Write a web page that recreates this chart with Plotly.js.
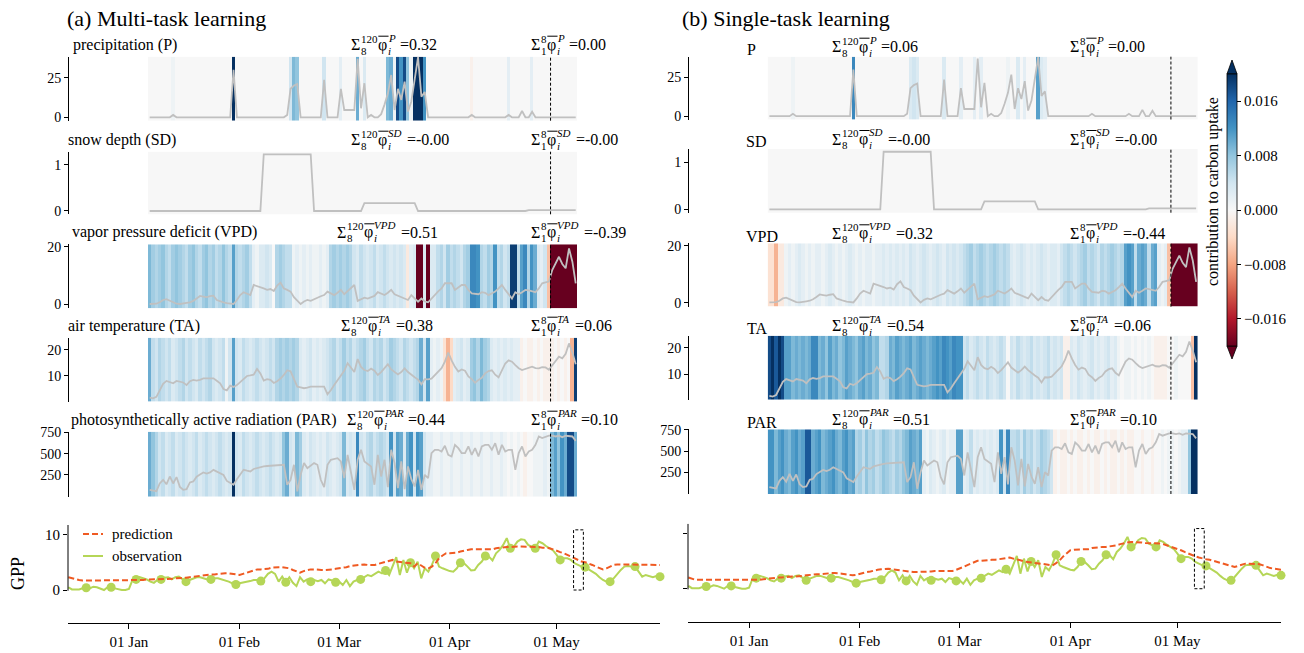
<!DOCTYPE html>
<html><head><meta charset="utf-8">
<script src="https://cdn.plot.ly/plotly-3.0.1.min.js"></script>
<style>html,body{margin:0;padding:0;background:#fff;}#chart{width:1304px;height:653px;}</style>
</head><body><div id="chart"></div>
<script>
// ---------------- DATA ----------------
const varNames = ['P','SD','VPD','TA','PAR'];
const leftLabels = ['precipitation (P)','snow depth (SD)','vapor pressure deficit (VPD)','air temperature (TA)','photosynthetically active radiation (PAR)'];
const rightLabels = ['P','SD','VPD','TA','PAR'];
const sum120Left = ['0.32','-0.00','0.51','0.38','0.44'];
const sum8Left   = ['0.00','-0.00','-0.39','0.06','0.10'];
const sum120Right = ['0.06','-0.00','0.32','0.54','0.51'];
const sum8Right   = ['0.00','-0.00','-0.44','0.06','0.10'];
const yTickVals = {P:[0,25], SD:[0,1], VPD:[0,20], TA:[10,20], PAR:[250,500,750]};

// input variables over the 128 steps (same for both panels)
const lineP = [0,0,0,0,0,0,0,1.5,0,0, 0,0,0,0,0,0,0,0,0,0, 0,0,0,0,0,30,0,0,0,0, 0,0,0,0,0,0,0,0,0,0,
 0,1.5,18,20,21,0,0,0,0,0, 0,0,23.6,0,0,0,0,18,4.6,4.6, 4.6,4.6,37,5.7,21.5,0,1.5,0,0,2,
 8,15,26.7,4.6,18,11,22.5,3.6,10,25, 38,13,16,0,0,0,0,0,0,0, 0,0,0,0,0,0,1.5,0,0,0,
 0,0,0,0,0,0,0,1.5,0,0, 0,4,0,0,3.5,0,0,0,0,0, 0,0,0,0,0,0,0,0];
const lineSD = [0,0,0,0,0,0,0,0,0,0, 0,0,0,0,0,0,0,0,0,0, 0,0,0,0,0,0,0,0,0,0,
 0,0,0,0,1.23,1.23,1.23,1.23,1.23,1.23, 1.23,1.23,1.23,1.23,1.23,1.23,1.23,1.23,1.23,0,
 0,0,0,0,0,0,0,0,0,0, 0,0,0,0,0.17,0.17,0.17,0.17,0.17,0.17, 0.17,0.17,0.17,0.17,0.17,0.17,0.17,0.17,0.17,0.17,
 0,0,0,0,0,0,0,0,0,0, 0,0,0,0,0,0,0,0,0,0, 0,0,0,0,0,0,0,0,0,0,
 0,0,0,0.02,0.02,0.02,0.02,0.02,0.02,0.02, 0.02,0.02,0.02,0.02,0.02,0.02,0.02,0.02];
const lineVPD = [0.1,0.1,0.2,0.7,1.5,1.8,1.2,0.7,0.2,0.1, 0.2,0.5,0.7,1.2,2.0,2.9,2.7,2.5,2.8,3.0,
 1.5,1.0,0.7,0.4,0.2,0.1,1.5,3.2,4.2,3.8, 3.2,6.7,6.3,6.1,5.5,5.0,5.3,4.6,6.5,7.5,
 5.5,5.0,4.4,2.5,1.2,0.1,1.0,1.5,1.2,1.8, 2.3,2.8,3.2,4.4,3.8,3.2,4.0,5.0,3.5,4.5,
 5.8,6.7,1.2,1.8,2.3,2.0,2.5,2.9,4.2,3.8, 3.2,4.0,5.0,3.5,3.0,2.7,2.0,1.5,3.2,2.0,
 0.9,2.0,1.0,0.7,2.0,3.5,4.5,5.5,7.3,7.3, 7.3,5.0,6.0,6.7,6.7,5.0,3.8,3.6,3.5,4.2,
 4.0,3.2,3.8,4.4,5.5,6.7,5.0,3.5,2.0,4.2, 3.5,4.2,5.0,4.8,4.6,4.2,5.5,7.3,7.6,7.9,
 11.9,14.2,16.5,14.0,12.5,19.4,14.8,7.3];
const lineTA = [1.7,1.4,2.0,4.5,7.0,8.1,7.5,7.2,8.1,7.9, 7.5,6.5,8.0,8.5,8.2,8.5,9.1,9.1,9.1,9.1,
 8.2,7.2,5.0,4.5,6.3,5.8,6.5,7.8,9.1,10.0, 10.2,10.5,12.7,11.0,8.2,8.8,8.5,7.3,8.0,9.0,
 10.4,12.2,11.8,9.0,5.9,5.6,5.3,5.5,5.9,5.9, 5.9,5.9,5.9,3.0,4.5,6.5,8.5,10.5,12.0,14.9,
 13.0,11.5,16.5,13.5,12.3,11.9,12.8,12.0,10.4,11.5, 13.0,14.5,12.5,11.5,10.6,11.5,12.9,11.5,10.4,9.5,
 8.6,6.8,8.8,8.7,9.0,10.4,11.8,13.0,15.5,19.0, 16.0,13.5,11.7,12.5,12.0,9.8,8.8,7.4,8.5,9.3,
 11.0,11.9,12.2,10.5,9.5,12.5,14.8,16.0,15.5,14.2, 13.0,12.3,12.7,13.2,13.6,13.0,12.9,13.4,13.3,12.4,
 14.0,15.5,17.4,16.8,18.5,22.5,19.0,14.5];
const linePAR = [76,68,60,150,193,140,232,150,225,110, 76,84,162,174,230,255,279,266,280,310,
 291,270,250,180,154,135,200,260,310,300, 291,320,330,345,350,355,357,360,369,369,
 369,135,193,369,57,252,389,330,360,389, 369,193,107,369,428,440,447,408,213,486,
 291,76,428,545,408,380,350,135,486,232, 428,107,545,389,96,408,84,350,200,115,
 310,76,252,213,506,545,545,525,592,486, 467,603,564,506,506,584,486,564,467,584,
 603,603,545,623,486,603,525,545,545,310, 506,584,467,525,545,603,701,682,693,710,
 710,701,709,693,709,701,701,650];

// contributions (units of 0.001)
const hmP_L = [0,0,0,0,0,0,0,1,0,0, 0,0,0,0,0,0,0,0,0,0, 0,0,0,0,0,20,0,0,0,0, 0,0,0,0,0,0,0,0,0,0,
 0,0,4,9,8,0,0,0,0,0, 0,0,4,0,0,0,0,2,0,0, 0,0,10,0,3,0,0,0,0,0, 0,9,10,1,18,12,18,8,1,20,
 20,20,12,0,0,0,0,0,0,0, 0,0,0,0,0,0,-1,0,0,0, 0,0,0,0,0,0,0,2,0,0, 0,0,0,0,2,0,0,0,0,0, 0,0,0,0,0,0,0,0];
const hmSD_L = [0,0,0,0,0,0,0,0,0,0, 0,0,0,0,0,0,0,0,0,0, 0,0,0,0,0,0,0,0,0,0, 0,0,0,0,0,0,0,0,0,0,
 0,0,0,0,0,0,0,0,0,0, 0,0,0,0,0,0,0,0,0,0, 0,0,0,0,0,0,0,0,0,0, 0,0,0,0,0,0,0,0,0,0,
 0,0,0,0,0,0,0,0,0,0, 0,0,0,0,0,0,0,0,0,0, 0,0,0,0,0,0,0,0,0,0, 0,0,0,0,0,0,0,0,0,0, 0,0,0,0,0,0,0,0];
const hmVPD_L = [9, 7,6,7,8,6,5,7,8,7,6,5,7,8,6,5,7,8,6,7,5,6,8,6,5, 11, 6,5,6,7,5, 2,1, 3,3,4,3, 0,
 6,7,6,5,5, 1,2,1,2,1,2,1,1,2,1,2, 6,7,6,7,6,7,6, 4,3,5,4,3,4,5,3,4,5,4,3,4,3,4,3, -2, 2,3,
 -20,-20, 3, -20, 3,3, 5,6,4,7,5,6,5,4,6,7, 13,13,12, 6,5,7,6, 12, 5,6,4,5, 19,19, 5,
 11,13,6,12,10, 3,2,4, -6, -20,-20,-20,-20,-20,-20,-20,-20];
const hmTA_L = [10, 5,4,6,5,4,5,3,4,5,6,4,5,4,3,5,4,5,6,4,3,4,5, 1, 4, 11, 4,3,5,4,3,4,5,4,3,4,5,4,
 6,7,6,7,6,7,6, 3,2,3,4,2,3,2,3,4, 5,6,4,5,7,5,6,4,5,6,7,5,4,6,5,6,4,5,7,6,5,4,6,5,4,5,6,
 10, 4, 11, 2,1,2,1, -3,-7,-4, 2,3,4,2,3, 7,8,6,9,7,6, 3,2,3,2,3,2,3,2,2,
 -1,0,-1,-1,0,-1,0,-1,-1, -1,0,-1,0,-1,0, -7, 19];
const hmPAR_L = [10, 8,6,4,5,3,4,5,3,4,5,4,3,4,5,3,4,5,4,3,4,5,4,3,4, 20, 4,3,5,4,3,4,5,4,3,4,5,4,3,4,
 8,10,4,3,9,7, 3,2,4,3,2,3,2,4,3,2,3,4, 9, 3,4,3, 13, 4,3, 5,6,4,5,6,5,4, 12, 4, 11,10, 3, 10, 12, 4,
 12,11, 4, 2, 2,1,1,2,1,1,2,1,1,2,1,1,2,1,1,2,1,1,2,1,1,2,1,0,1,0,1,0, -1, 0,0,1, 1,1,2,1,
 9,11,8,12,10, 18,18, 10];
const hmP_R = [0,0,0,0,0,0,0,1,0,0, 0,0,0,0,0,0,0,0,0,0, 0,0,0,0,0,13,0,0,0,0, 0,0,0,0,0,0,0,0,0,0,
 0,0,3,4,3,0,0,0,0,0, 0,0,3,0,0,0,0,2,0,0, 0,2,0,2,0,0,0,0,0,0, 0,1,0,0,3,0,2,0,0,0,
 11,3,2,0,0,0,0,0,0,0, 0,0,0,0,0,0,0,0,0,0, 0,0,0,0,0,0,0,0,0,0, 0,0,0,0,0,0,0,0,0,0, 0,0,0,0,0,0,0,0];
const hmSD_R = [0,0,0,0,0,0,0,0,0,0, 0,0,0,0,0,0,0,0,0,0, 0,0,0,0,0,0,0,0,0,0, 0,0,0,0,0,0,0,0,0,0,
 0,0,0,0,0,0,0,0,0,0, 0,0,0,0,0,0,0,0,0,0, 0,0,0,0,0,0,0,0,0,0, 0,0,0,0,0,0,0,0,0,0,
 0,0,0,0,0,0,0,0,0,0, 0,0,0,0,0,0,0,0,0,0, 0,0,0,0,0,0,0,0,0,0, 0,0,0,0,0,0,0,0,0,0, 0,0,0,0,0,0,0,0];
const hmVPD_R = [-3,-3, -7, -2,-2, 1,2,1,2,3,2,1,2,1,2,2,1,2,3,2,1,2,1,2,3,2,1,2,1,2,2,1,2,
 2,3,2,3,2,3,2, 3,2,4,3,2,3,4,3,2,3,4,3,2,4,3,4,3,4, 5,6,7,5,6,7,6,5,6,7,6,5,6,5,
 3,2,3,4,3,2,3,2,3,4,3,2,3,3,2, 4,5,6,5,4,5,6,7,5,6,5,4,6,5,6,7,6,5,6,
 11,12,11, 5, 10,11,10, 5, 10,11, 2,1,2, -6, -20,-20,-20,-20,-20,-20,-20,-20];
const hmTA_R = [18,20,17,20,18, 11,11, 9,10,9,10,9,10, 13,13, 9,10,8,11,9,10,8,9,11,10,9,8,10,11,9,10,8,9,
 5,5,6, 10,9,11,10,9,10,11,9,10,11,10,9,10,11, 12,11,13,12,11,13,12,12, 4,5,3,4,5,4,3,5,4,3,4,5,4, 0,
 4,3,5,4,3,4,5,3,4,3,4,5,3,4,3,4, -1,-1, 3,2,4,3,2,3,4,2,3,2,3,4,2,3, 1,0,1,1,0,1,0,1,0,1,0,
 -1,-1,-1,-1, 0,0,1,0,0,0,0, -6, 20];
const hmPAR_R = [12,12, 9,11,12,10,9,11,12,10,11, 17,17, 10,11,12,9,10,11,12,10,9,11,12,10,11,
 6,7,5,8,6,7,5,6,8,7,6,5,7,6,8, 9,11,10,9,11, 2,1,3,2,1,2,3,1,2,2, 11,11, 2,3,5,2,3,2,3,2,3,2,
 3,12,4,13,5, 5,6,4,7,5,6,4,5,7,6,5,4,
 -1,0,-1,-1,0,-1,0,-1,-1,0,-1,0,-1,-1,0,-1,0,-1,-1,0,-1,0,-1,-1,0,0,-1,0,0,-1,0,
 0,1,0,1,1,0,1,2,2, 8, 20,20];

// GPP, daily from 2018-12-15 (167 days)
const gppObs = [0.5,0.1,0.1,0.1,0.3,0.4,0.3,0.6,0.5,0.3, 0.0,0.5,0.5,0.3,0.1,0.0,0.0,0.2,1.8,1.9,
 2.3,2.1,1.9,1.5,1.3,1.8,1.9,2.2,2.3,1.9, 2.3,2.4,1.9,1.5,1.8,2.1,2.3,2.3,2.1,1.9,
 1.9,2.1,2.1,1.9,1.8,1.5,1.2,1.0,1.2,1.3, 1.5,1.6,1.8,1.8,1.6,2.1,2.9,3.3,2.9,1.5,
 2.4,1.4,2.3,1.3,0.7,2.3,1.5,1.9,1.5,1.8, 1.6,1.8,1.2,1.9,1.7,1.4,1.5,0.9,1.8,0.7,
 1.5,1.8,1.9,2.3,2.7,2.5,2.9,3.3,3.0,3.5, 2.7,4.5,5.9,2.7,5.4,3.1,4.9,3.9,5.1,2.1,
 3.9,3.3,4.5,6.1,4.2,3.9,3.6,3.4,3.3,3.9, 4.9,4.8,4.2,3.5,3.6,4.5,5.1,6.1,6.0,5.3,
 6.6,7.2,8.1,9.3,7.5,7.8,8.7,9.1,9.0,8.1, 7.8,7.5,8.7,8.4,7.9,7.5,7.1,6.3,5.4,5.7,
 5.7,5.4,4.8,4.5,4.2,4.1,3.7,3.3,2.9,2.3, 1.8,1.5,1.5,2.1,2.9,3.6,4.2,4.3,4.2,4.2,
 3.3,2.4,2.7,2.5,2.3,2.5,2.4];
const gppPredMulti = [2.3,2.1,1.9,1.8,1.7,1.7,1.7,1.8,1.8,1.8, 1.8,1.8,1.8,1.8,1.8,1.8,1.7,1.7,1.7,1.7,
 1.8,1.8,1.9,1.9,1.9,1.9,2.0,2.0,2.0,2.0, 2.1,2.1,2.2,2.2,2.3,2.4,2.4,2.5,2.6,2.7,
 2.8,2.8,2.9,2.9,3.0,3.0,2.9,2.8,2.7,2.9, 3.1,3.3,3.5,3.7,3.7,3.7,3.8,4.0,4.1,4.1,
 4.1,4.0,3.9,3.6,3.3,3.1,3.4,3.6,3.7,3.7, 3.6,3.6,3.6,3.6,3.7,3.8,3.9,3.9,4.1,4.3,
 4.4,4.5,4.6,4.6,4.5,4.5,4.5,4.7,4.9,5.1, 5.3,5.4,5.1,5.0,4.9,4.8,4.8,4.2,4.8,4.4,
 4.0,3.9,4.2,4.8,5.7,6.2,6.6,6.6,6.6,6.7, 6.9,7.1,7.2,7.3,7.3,7.3,7.3,7.3,7.3,7.3,
 7.5,7.6,7.7,7.7,7.7,7.8,7.8,7.8,7.8,7.8, 7.7,7.7,7.7,7.6,7.6,7.5,7.3,7.0,6.8,6.6,
 6.3,6.0,5.6,5.3,5.1,5.0,4.8,4.5,4.2,3.9, 3.7,3.9,4.2,4.5,4.6,4.6,4.6,4.6,4.6,4.5,
 4.5,4.5,4.5,4.5,4.5,4.5,4.5];
const gppPredSingle = [2.0,1.8,1.6,1.6,1.6,1.6,1.6,1.6,1.6,1.6, 1.6,1.6,1.5,1.5,1.5,1.5,1.5,1.5,1.6,1.6,
 1.6,1.7,1.8,1.8,1.9,2.0,2.0,2.1,2.1,2.2, 2.2,2.2,2.3,2.4,2.5,2.5,2.6,2.6,2.7,2.7,
 2.8,2.8,2.8,2.7,2.6,2.5,2.4,2.5,2.7,2.8, 3.0,3.1,3.3,3.4,3.5,3.6,3.6,3.5,3.4,3.4,
 3.3,3.2,3.1,3.0,3.0,3.0,3.0,3.1,3.1,3.2, 3.2,3.2,3.2,3.2,3.2,3.4,3.6,3.9,4.2,4.5,
 4.8,5.0,5.0,5.1,5.1,5.2,5.2,5.3,5.5,5.6, 5.6,5.4,5.3,5.1,4.9,4.8,4.7,4.6,4.6,4.5,
 4.4,4.3,4.2,4.6,5.1,5.8,6.4,6.9,7.0,7.0, 7.0,7.0,7.1,7.3,7.4,7.5,7.5,7.5,7.6,7.6,
 7.8,8.0,8.2,8.3,8.4,8.4,8.3,8.3,8.2,8.2, 8.1,8.1,8.1,8.0,7.8,7.6,7.4,7.2,6.9,6.6,
 6.3,6.0,5.8,5.6,5.4,5.3,5.2,5.0,4.8,4.6, 4.5,4.3,4.1,3.9,4.1,4.3,4.5,4.5,4.5,4.4,
 4.4,4.2,3.9,3.7,3.6,3.5,3.4];
const gppStart = '2018-12-15';
const markerFirstDay = 5, markerEvery = 7;
const dateTicks = ['2019-01-01','2019-02-01','2019-03-01','2019-04-01','2019-05-01'];
const dateTickText = ['01 Jan','01 Feb','01 Mar','01 Apr','01 May'];
const highlight = {start:'2019-05-05 18:00', end:'2019-05-08 12:00', top:10.8};

// ---------------- CHECKS ----------------
const chk = {lineP,lineSD,lineVPD,lineTA,linePAR,hmP_L,hmSD_L,hmVPD_L,hmTA_L,hmPAR_L,hmP_R,hmSD_R,hmVPD_R,hmTA_R,hmPAR_R};
for (const k in chk) if (chk[k].length !== 128) throw new Error(k + ' length ' + chk[k].length);
for (const a of [['obs',gppObs],['pm',gppPredMulti],['ps',gppPredSingle]]) if (a[1].length !== 167) throw new Error(a[0]+' length '+a[1].length);

// ---------------- LAYOUT HELPERS ----------------
const W = 1304, H = 653;
const px = x => x / W, py = y => 1 - y / H;
const FONT = 'Liberation Serif, Times New Roman, serif';
const RdBu = [[0,'#67001f'],[0.1,'#b2182b'],[0.2,'#d6604d'],[0.3,'#f4a582'],[0.4,'#fddbc7'],[0.5,'#f7f7f7'],
  [0.6,'#d1e5f0'],[0.7,'#92c5de'],[0.8,'#4393c3'],[0.9,'#2166ac'],[1,'#053061']];
const lines = [lineP, lineSD, lineVPD, lineTA, linePAR];
const heatL = [hmP_L, hmSD_L, hmVPD_L, hmTA_L, hmPAR_L];
const heatR = [hmP_R, hmSD_R, hmVPD_R, hmTA_R, hmPAR_R];
const yRanges = [[-2.15,38.26],[-0.072,1.289],[-1.39,20.83],[0.2,24.7],[-5,757]];
const panels = [
  {heat: heatL, hx:[148,577.4], axisX:68, tops:[56.7,151.7,244.3,337.7,431.7], bots:[120.7,214.3,308.3,401.5,496.7],
   labels:leftLabels, labelX:[72.6,67.7,71.5,67.7,70.7], labelDy:-12, s120:sum120Left, s8:sum8Left,
   sx1:[351,351,337,341,347], sx2:[531,531,531,531,531], sDy:-12},
  {heat: heatR, hx:[767.7,1197.8], axisX:688, tops:[56.7,149,243.3,335.7,429.3], bots:[119.5,212.7,306.7,399.7,494],
   labels:rightLabels, labelX:[747,746,746,747,747], labelDy:-7, s120:sum120Right, s8:sum8Right,
   sx1:[832,832,832,832,832], sx2:[1070,1070,1070,1070,1070], sDy:-10}
];

const steps = [], edges = [];
for (let k = 0; k < 128; k++) steps.push(k + 0.5);
for (let k = 0; k <= 128; k++) edges.push(k);

const traces = [], annotations = [], shapes = [];
const layout = {width:W, height:H, margin:{l:0,r:0,t:0,b:0}, paper_bgcolor:'#fff', plot_bgcolor:'#fff',
  showlegend:false, font:{family:FONT, size:14, color:'#000'}, annotations, shapes};

const ctx = document.createElement('canvas').getContext('2d');
function tw(t, size, it) { ctx.font = (it ? 'italic ' : '') + size + 'px "Liberation Serif"'; return ctx.measureText(t).width; }
function ann(x, y, text, size, extra) {
  annotations.push(Object.assign({xref:'paper', yref:'paper', x:px(x), y:py(y), text:text, showarrow:false,
    xanchor:'left', yanchor:'middle', borderpad:0, borderwidth:0, font:{family:FONT, size:size, color:'#000'}}, extra || {}));
}
function sigmaLabel(x0, yc, lo, hi, v, val) {
  const S = 16, s = 11;
  const wS = tw('\u03A3', S);
  ann(x0, yc, '\u03A3', S);
  ann(x0 + wS + 0.5, yc - 6, hi, s);
  ann(x0 + wS + 0.5, yc + 6, lo, s);
  const xp = x0 + wS + 1 + Math.max(tw(hi, s), tw(lo, s));
  const wp = tw('\u03C6', S);
  ann(xp, yc, '\u03C6', S);
  shapes.push({type:'line', xref:'paper', yref:'paper', x0:px(xp + 0.5), x1:px(xp + wp + 1.5), y0:py(yc - 8.5), y1:py(yc - 8.5), line:{color:'#000', width:1}});
  ann(xp + wp + 0.5, yc - 7, '<i>' + v + '</i>', s);
  ann(xp + wp + 0.5, yc + 6, '<i>i</i>', s);
  const xe = xp + wp + 0.5 + Math.max(tw(v, s, true), tw('i', s, true)) + 6;
  ann(xe, yc, '=' + val, S);
}

// ---------------- HEATMAP ROWS ----------------
panels.forEach((pn, p) => {
  for (let v = 0; v < 5; v++) {
    const idx = p * 5 + v + 1;
    const xn = idx === 1 ? 'x' : 'x' + idx, yn = idx === 1 ? 'y' : 'y' + idx;
    const xk = idx === 1 ? 'xaxis' : 'xaxis' + idx, yk = idx === 1 ? 'yaxis' : 'yaxis' + idx;
    const tr = {type:'heatmap', x:edges, y:yRanges[v], z:[pn.heat[v]], xaxis:xn, yaxis:yn,
      colorscale:RdBu, zmin:-20, zmax:20, zsmooth:false, hoverinfo:'skip', showscale:idx === 1};
    if (idx === 1) {
      tr.colorbar = {x:px(1227), xanchor:'left', y:py(210), yanchor:'middle', len:272, lenmode:'pixels',
        thickness:10, thicknessmode:'pixels', outlinewidth:0.8, outlinecolor:'#000', ticks:'outside', ticklen:4,
        tickwidth:1, tickcolor:'#000', tickvals:[-16,-8,0,8,16],
        ticktext:['\u22120.016','\u22120.008','0.000','0.008','0.016'],
        tickfont:{family:FONT, size:15, color:'#000'}, xpad:0, ypad:0, title:{text:''}};
    }
    traces.push(tr);
    traces.push({type:'scatter', mode:'lines', x:steps, y:lines[v], xaxis:xn, yaxis:yn,
      line:{color:'#c0c0c0', width:1.8}, hoverinfo:'skip'});
    layout[xk] = {domain:[px(pn.hx[0]), px(pn.hx[1])], range:[0,128], anchor:yn, visible:false, fixedrange:true};
    const tv = yTickVals[varNames[v]];
    layout[yk] = {domain:[py(pn.bots[v]), py(pn.tops[v])], range:yRanges[v], anchor:'free', position:px(pn.axisX),
      showline:true, linecolor:'#000', linewidth:1, ticks:'outside', ticklen:4, tickwidth:1, tickcolor:'#000',
      tickvals:tv, ticktext:tv.map(String), tickfont:{family:FONT, size:14, color:'#000'},
      showgrid:false, zeroline:false, fixedrange:true};
    shapes.push({type:'line', xref:xn, yref:yn + ' domain', x0:120, x1:120, y0:0, y1:1,
      line:{color:'#000', width:1, dash:'3px,2px'}});
    ann(pn.labelX[v], pn.tops[v] + pn.labelDy, pn.labels[v], 16);
    sigmaLabel(pn.sx1[v], pn.tops[v] + pn.sDy, '8', '120', varNames[v], pn.s120[v]);
    sigmaLabel(pn.sx2[v], pn.tops[v] + pn.sDy, '1', '8', varNames[v], pn.s8[v]);
  }
});

// ---------------- GPP ----------------
const dates = [];
const t0 = Date.parse(gppStart + 'T00:00:00Z');
for (let i = 0; i < gppObs.length; i++) dates.push(new Date(t0 + i * 86400000).toISOString().slice(0, 10));
const mX = [], mY = [];
for (let i = markerFirstDay; i < gppObs.length; i += markerEvery) { mX.push(dates[i]); mY.push(gppObs[i]); }
const PRED = '#ef5a22', OBS = '#b5d657';
const gppPanels = [{idx:11, pred:gppPredMulti, x0:68, x1:660, bot:623, top:525, labels:true},
                   {idx:12, pred:gppPredSingle, x0:688, x1:1281, bot:621.7, top:523.7, labels:false}];
gppPanels.forEach(g => {
  const xn = 'x' + g.idx, yn = 'y' + g.idx;
  traces.push({type:'scatter', mode:'lines', x:dates, y:gppObs, xaxis:xn, yaxis:yn, line:{color:OBS, width:2}, hoverinfo:'skip'});
  traces.push({type:'scatter', mode:'markers', x:mX, y:mY, xaxis:xn, yaxis:yn, marker:{color:OBS, size:9}, cliponaxis:false, hoverinfo:'skip'});
  traces.push({type:'scatter', mode:'lines', x:dates, y:g.pred, xaxis:xn, yaxis:yn, line:{color:PRED, width:2, dash:'6px,3px'}, hoverinfo:'skip'});
  layout['xaxis' + g.idx] = {domain:[px(g.x0), px(g.x1)], type:'date', range:['2018-12-14 21:30','2019-05-30 00:00'],
    anchor:yn, showline:true, linecolor:'#000', linewidth:1, ticks:'outside', ticklen:5, tickwidth:1, tickcolor:'#000',
    tickvals:dateTicks, ticktext:dateTickText, tickfont:{family:FONT, size:15, color:'#000'}, showgrid:false, zeroline:false, fixedrange:true};
  layout['yaxis' + g.idx] = {domain:[py(g.bot), py(g.top)], range:[-5.92, 11.67], anchor:xn, showline:false,
    ticks:'outside', ticklen:4, tickwidth:1, tickcolor:'#000', tickvals:[0,10], ticktext:['0','10'], showticklabels:g.labels,
    tickfont:{family:FONT, size:15, color:'#000'}, showgrid:false, zeroline:false, fixedrange:true};
  shapes.push({type:'line', xref:'paper', yref:yn, x0:px(g.x0), x1:px(g.x0), y0:-0.12, y1:11.67, line:{color:'#000', width:1}});
  shapes.push({type:'rect', xref:xn, yref:yn, x0:highlight.start, x1:highlight.end, y0:0, y1:highlight.top,
    line:{color:'#000', width:1, dash:'3px,2px'}, fillcolor:'rgba(0,0,0,0)'});
});

// legend (left GPP)
shapes.push({type:'line', xref:'paper', yref:'paper', x0:px(83), x1:px(103), y0:py(534), y1:py(534), line:{color:PRED, width:2, dash:'6px,3px'}});
shapes.push({type:'line', xref:'paper', yref:'paper', x0:px(83), x1:px(103), y0:py(556), y1:py(556), line:{color:OBS, width:2}});
ann(112, 534, 'prediction', 15);
ann(112, 556, 'observation', 15);
ann(18, 574, 'GPP', 18, {xanchor:'center', textangle:-90});

// titles
ann(67, 18, '(a) Multi-task learning', 22);
ann(682, 18, '(b) Single-task learning', 22);

// colorbar extras
shapes.push({type:'path', xref:'paper', yref:'paper', path:`M ${px(1227)},${py(74)} L ${px(1237)},${py(74)} L ${px(1232)},${py(60)} Z`,
  fillcolor:'#053061', line:{color:'#000', width:0.8}});
shapes.push({type:'path', xref:'paper', yref:'paper', path:`M ${px(1227)},${py(346)} L ${px(1237)},${py(346)} L ${px(1232)},${py(359)} Z`,
  fillcolor:'#67001f', line:{color:'#000', width:0.8}});
ann(1213, 192, 'contribution to carbon uptake', 16, {xanchor:'center', textangle:-90});

Plotly.newPlot('chart', traces, layout, {staticPlot:true, displayModeBar:false});
</script></body></html>
